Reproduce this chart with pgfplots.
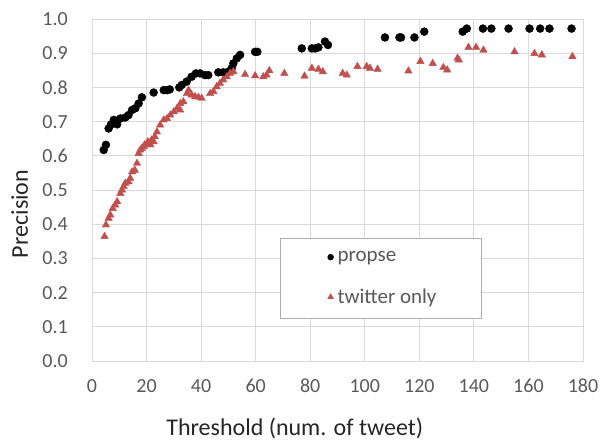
\documentclass[border=0pt]{standalone}
\usepackage{pgfplots}
\pgfplotsset{compat=1.18}
\usepackage{fontspec}
\setmainfont{Carlito}

\definecolor{gridgray}{HTML}{D9D9D9}
\definecolor{ticktext}{HTML}{595959}
\definecolor{xlred}{HTML}{C0504D}

\begin{document}
\begin{tikzpicture}
\begin{axis}[
  scale only axis, width=491pt, height=342pt,
  xmin=0, xmax=180, ymin=0, ymax=1,
  xtick={0,20,...,180}, ytick={0,0.1,...,1.0},
  grid=major, major grid style={gridgray, line width=0.8pt},
  axis line style={gridgray, line width=0.8pt},
  tick style={draw=none},
  /pgf/number format/assume math mode=true,
  ticklabel style={font=\fontsize{20}{24}\selectfont, text=ticktext, inner sep=0pt},
  yticklabel style={/pgf/number format/fixed, /pgf/number format/fixed zerofill,
    /pgf/number format/precision=1, anchor=east, xshift=-24pt},
  xticklabel style={anchor=center, yshift=-25pt},
  xlabel={Threshold (num. of tweet)},
  ylabel={Precision},
  label style={font=\fontsize{24}{28}\selectfont, text=black!85},
  xlabel style={at={(axis description cs:0.413,-0.196)}, anchor=center},
  ylabel style={at={(axis description cs:-0.147,0.43)}, anchor=center},
  legend style={at={(axis cs:69,0.36)}, anchor=north west,
    draw=gridgray!80!black, line width=0.8pt, fill=white,
    inner xsep=43pt, inner ysep=11pt, row sep=22pt,
    font=\fontsize{21}{25}\selectfont, text=ticktext},
  legend image code/.code={%
    \path[draw=none, fill=none] (-7pt,-4pt) rectangle (5pt,4pt);
    \draw[#1] plot coordinates {(0pt,0pt)};},
  legend cell align=left,
]
\addplot[only marks, mark=*, mark size=4pt, black, forget plot] coordinates {
(4.3,0.617)(5.1,0.632)(6.1,0.680)(7.0,0.692)(8.0,0.705)(9.2,0.692)(10.4,0.709)
(12.2,0.712)(13.4,0.719)(14.7,0.734)(15.9,0.739)(17.1,0.753)(18.3,0.771)
(22.6,0.785)(26.3,0.792)(27.5,0.792)(28.5,0.794)(32.0,0.800)(32.9,0.807)
(34.7,0.817)(36.5,0.831)(38.1,0.841)(39.6,0.841)(41.4,0.836)(42.6,0.836)
(46.3,0.844)(48.1,0.844)(50.0,0.846)(51.2,0.856)(51.8,0.870)(53.1,0.885)
(54.3,0.895)(59.8,0.904)(60.6,0.904)(76.9,0.914)(80.6,0.914)(81.8,0.914)
(83.0,0.917)(85.4,0.934)(86.5,0.924)(107.4,0.946)(112.7,0.946)(113.3,0.946)
(118.2,0.946)(121.8,0.963)(135.9,0.963)(137.4,0.972)(143.3,0.972)(146.4,0.972)
(152.7,0.972)(160.4,0.972)(164.3,0.972)(167.7,0.972)(175.8,0.972)
};
\addplot[only marks, mark=triangle*, mark size=4.3pt, xlred, forget plot] coordinates {
(4.6,0.364)(5.1,0.398)(6.1,0.417)(6.7,0.427)(7.6,0.446)(8.5,0.456)(9.2,0.466)
(10.4,0.490)(11.0,0.500)(11.6,0.510)(12.2,0.520)(13.4,0.524)(14.0,0.534)
(14.7,0.553)(15.7,0.558)(16.5,0.578)(17.1,0.607)(17.7,0.617)(18.3,0.622)
(19.0,0.627)(19.3,0.632)(20.2,0.636)(20.5,0.641)(21.4,0.632)(21.8,0.646)
(22.6,0.641)(23.0,0.656)(23.8,0.670)(25.0,0.690)(26.3,0.705)(27.5,0.709)
(28.7,0.719)(30.0,0.729)(31.2,0.739)(32.3,0.734)(32.4,0.753)(33.5,0.758)
(34.8,0.782)(35.4,0.792)(36.5,0.778)(37.8,0.773)(39.0,0.771)(40.2,0.768)
(43.3,0.782)(44.5,0.788)(45.7,0.802)(46.9,0.812)(48.1,0.822)(49.4,0.831)
(50.6,0.841)(51.8,0.846)(56.1,0.838)(59.8,0.834)(62.8,0.831)(64.0,0.836)
(65.0,0.849)(70.5,0.841)(77.9,0.833)(80.6,0.856)(83.0,0.853)(84.6,0.846)
(91.9,0.841)(93.4,0.836)(97.3,0.861)(100.7,0.861)(101.9,0.856)(104.7,0.853)
(116.0,0.848)(120.4,0.876)(124.9,0.870)(128.8,0.858)(130.2,0.851)(134.0,0.885)
(134.5,0.880)(138.0,0.917)(140.8,0.917)(143.5,0.909)(154.9,0.904)(162.2,0.899)
(164.9,0.895)(176.1,0.890)
};
\addlegendimage{only marks, mark=*, mark size=2.8pt, black}
\addlegendentry{propse}
\addlegendimage{only marks, mark=triangle*, mark size=3pt, xlred}
\addlegendentry{twitter only}
\end{axis}
\pgfresetboundingbox
\path ([shift={(-92pt,-80pt)}]current axis.south west)
  rectangle ([shift={(18pt,19pt)}]current axis.north east);
\end{tikzpicture}
\end{document}
